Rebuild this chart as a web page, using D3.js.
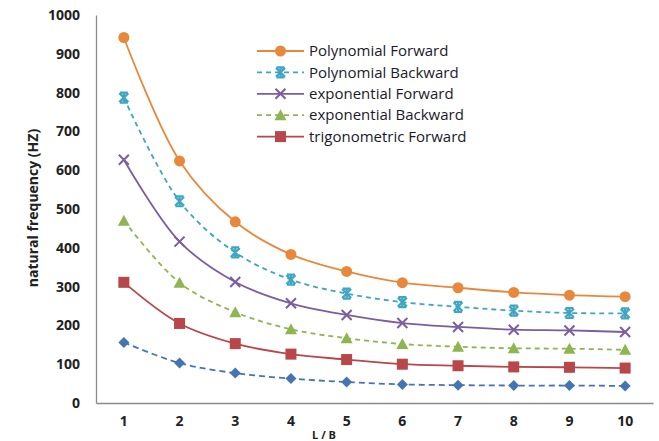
<!DOCTYPE html>
<html>
<head>
<meta charset="utf-8">
<script src="https://cdn.jsdelivr.net/npm/d3@7"></script>
<style>
  body { margin: 0; background: #fff; }
  #chart { width: 659px; height: 441px; }
  .axis text { font-family: "Open Sans", sans-serif; font-weight: bold; font-size: 14px; fill: #222; }
  .axis path { stroke: #8a8a8a; stroke-width: 1.3; }
  .axisLabel { font-family: "Open Sans", sans-serif; font-weight: bold; font-size: 14px; fill: #222; }
  .legend text { font-family: "Open Sans", sans-serif; font-size: 15px; fill: #1a1a2a; }
</style>
</head>
<body>
<div id="chart"></div>
<script>

// categories (L / B ratio)
const ratios = [1, 2, 3, 4, 5, 6, 7, 8, 9, 10];
const yTicks = [0, 100, 200, 300, 400, 500, 600, 700, 800, 900, 1000];

// natural frequency values
const polyForward  = [942, 624, 467, 383, 339, 310, 297, 285, 278, 274];
const polyBackward = [787, 520, 388, 318, 282, 260, 248, 238, 232, 231];
const expForward   = [627, 416, 312, 257, 227, 206, 196, 189, 187, 183];
const expBackward  = [470, 310, 234, 190, 167, 152, 145, 141, 140, 137];
const trigForward  = [311, 205, 153, 126, 112, 100, 96, 93, 92, 90];
const trigBackward = [156, 103, 77, 63, 54, 48, 46, 45, 45, 44];

const seriesNames = ["Polynomial Forward", "Polynomial Backward", "exponential Forward",
                     "exponential Backward", "trigonometric Forward", "trigonometric Backward"];

const series = [
    {name: seriesNames[0], values: polyForward,  color: "#e8883c", dash: null,  marker: "circle"},
    {name: seriesNames[1], values: polyBackward, color: "#3fa6c2", dash: "5,4", marker: "star"},
    {name: seriesNames[2], values: expForward,   color: "#7a5ea0", dash: null,  marker: "x"},
    {name: seriesNames[3], values: expBackward,  color: "#8fb552", dash: "5,4", marker: "triangle"},
    {name: seriesNames[4], values: trigForward,  color: "#b8474a", dash: null,  marker: "square"},
    {name: seriesNames[5], values: trigBackward, color: "#4574b2", dash: "6,4", marker: "diamond"}
];

const width = 659;
const height = 441;
const margin = {top: 15, left: 96, right: 6, bottom: 38};

const svg = d3.select("#chart")
    .append("svg")
    .attr("width", width)
    .attr("height", height);

/*
SCALES
*/
const xScale = d3.scaleBand()
    .domain(ratios)
    .range([margin.left, width - margin.right]);

const yScale = d3.scaleLinear()
    .domain([0, 1000])
    .range([height - margin.bottom, margin.top]);

const xPos = function(d) { return xScale(d) + xScale.bandwidth() / 2; };

/*
AXES
*/
svg.append("g")
    .attr("class", "axis")
    .attr("transform", `translate(0,${height - margin.bottom})`)
    .call(d3.axisBottom(xScale).tickSize(0).tickSizeOuter(0).tickPadding(13));

svg.append("g")
    .attr("class", "axis")
    .attr("transform", `translate(${margin.left},0)`)
    .call(d3.axisLeft(yScale).tickValues(yTicks).tickFormat(d3.format("d"))
        .tickSize(0).tickSizeOuter(0).tickPadding(16));

svg.append("text")
    .attr("class", "axisLabel")
    .attr("transform", "rotate(-90)")
    .attr("x", -208)
    .attr("y", 38)
    .attr("text-anchor", "middle")
    .text("natural frequency (HZ)");

svg.append("text")
    .attr("class", "axisLabel")
    .attr("x", 324)
    .attr("y", 439)
    .attr("text-anchor", "middle")
    .style("font-size", "11px")
    .text("L / B");

/*
LINES + MARKERS
*/
const line = d3.line()
    .x(function(d, i) { return xPos(ratios[i]); })
    .y(function(d) { return yScale(d); })
    .curve(d3.curveCatmullRom.alpha(0.5));

function drawMarker(g, type, color) {
    if (type === "circle") {
        g.append("circle").attr("r", 5.5).attr("fill", color);
    } else if (type === "square") {
        g.append("rect").attr("x", -5.5).attr("y", -5.5).attr("width", 11).attr("height", 11).attr("fill", color);
    } else if (type === "triangle") {
        g.append("path").attr("d", "M0,-6L6,5L-6,5Z").attr("fill", color);
    } else if (type === "diamond") {
        g.append("path").attr("d", "M0,-5.5L5.5,0L0,5.5L-5.5,0Z").attr("fill", color);
    } else if (type === "x") {
        g.append("path").attr("d", "M-5,-5L5,5M-5,5L5,-5")
            .attr("stroke", color).attr("stroke-width", 2).attr("fill", "none");
    } else if (type === "star") {
        g.append("path").attr("d", "M-4.5,-4.5L4.5,4.5M-4.5,4.5L4.5,-4.5M-4,-5H4M-4,5H4M0,-5V5")
            .attr("stroke", color).attr("stroke-width", 2.2).attr("fill", "none");
    }
}

series.forEach(function(s) {
    svg.append("path")
        .datum(s.values)
        .attr("d", line)
        .attr("fill", "none")
        .attr("stroke", s.color)
        .attr("stroke-width", 1.8)
        .attr("stroke-dasharray", s.dash);

    s.values.forEach(function(v, i) {
        const g = svg.append("g")
            .attr("transform", `translate(${xPos(ratios[i])},${yScale(v)})`);
        drawMarker(g, s.marker, s.color);
    });
});

/*
LEGEND (only first five entries fit in the box)
*/
const legend = svg.append("g").attr("class", "legend");
series.slice(0, 5).forEach(function(s, i) {
    const y = 51 + i * 21.4;
    legend.append("line")
        .attr("x1", 257).attr("x2", 304)
        .attr("y1", y).attr("y2", y)
        .attr("stroke", s.color)
        .attr("stroke-width", 1.8)
        .attr("stroke-dasharray", s.dash);
    const g = legend.append("g").attr("transform", `translate(280.5,${y})`);
    drawMarker(g, s.marker, s.color);
    legend.append("text")
        .attr("x", 309)
        .attr("y", y)
        .attr("dy", "0.35em")
        .text(s.name);
});

</script>
</body>
</html>
